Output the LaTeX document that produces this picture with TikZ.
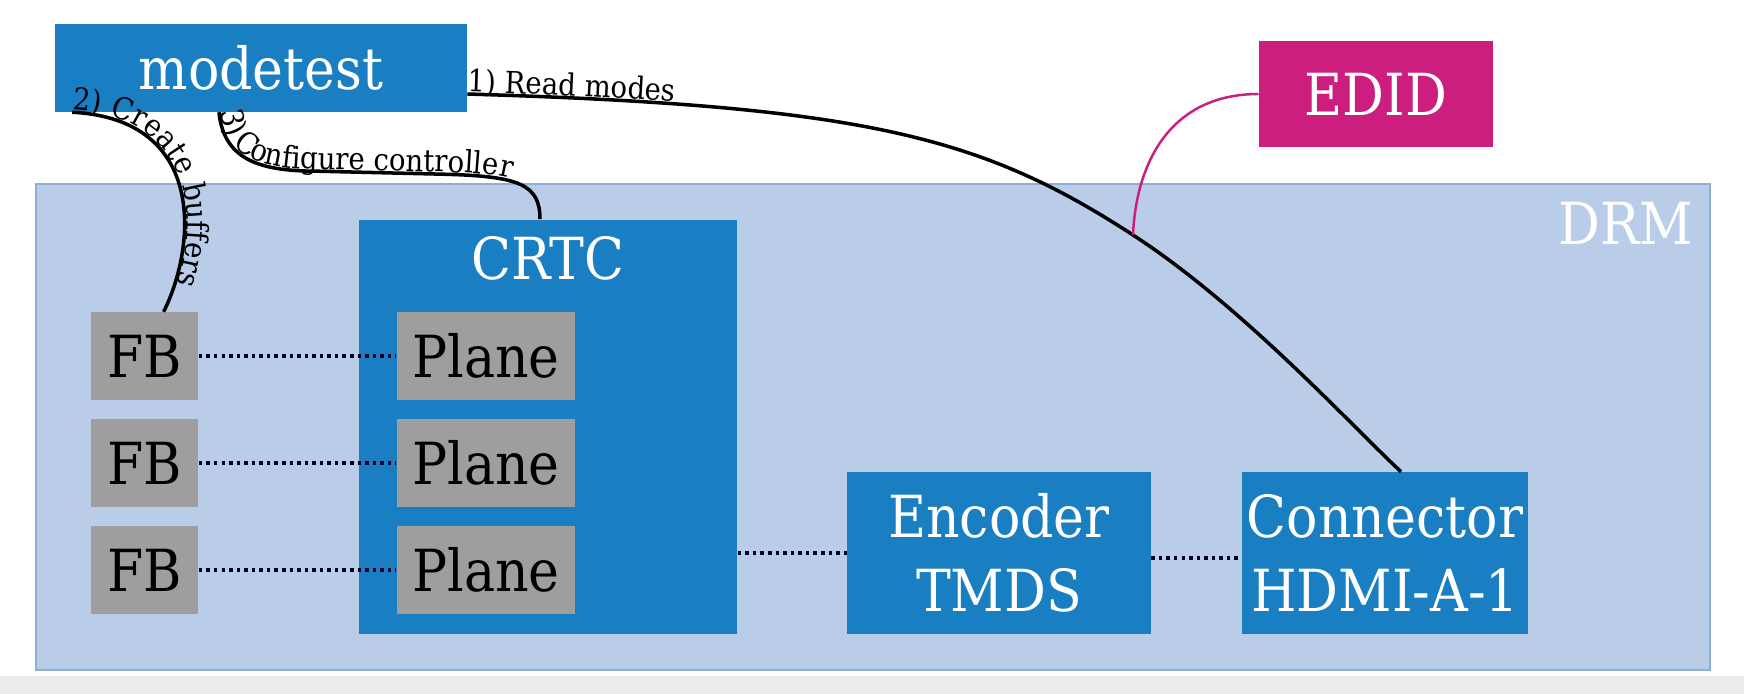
\documentclass[tikz,border=0pt]{standalone}
\usepackage{fontspec}
\setmainfont{DejaVu Serif}[FakeStretch=0.9]
\usetikzlibrary{decorations.text,calc}

\definecolor{kmsblue}{RGB}{25,126,194}
\definecolor{drmfill}{RGB}{185,205,233}
\definecolor{drmline}{RGB}{143,176,214}
\definecolor{fbgray}{RGB}{158,158,158}
\definecolor{edidpink}{RGB}{204,30,126}
\definecolor{bandgray}{RGB}{236,236,234}

\newcommand{\boxfont}{\fontsize{16.5}{21}\selectfont}
\newcommand{\callfont}{\fontsize{8.7}{10}\selectfont}

\begin{document}
\begin{tikzpicture}[x=0.01cm,y=-0.01cm]

\tikzset{
  blk/.style={fill=kmsblue,text=white,font=\boxfont,inner sep=0pt,align=center},
  gry/.style={fill=fbgray,text=black,font=\boxfont,inner sep=0pt,minimum width=1.07cm,minimum height=0.87cm},
  link/.style={draw=black,line width=1pt},
  dots/.style={draw=black!85!blue,line width=1pt,dash pattern=on 1pt off 1.15pt},
  call/.style={link,postaction={decorate},decoration={text along path,raise=0.6pt,text={|\callfont|#1}}}
}

%% Page
\useasboundingbox (0,0) rectangle (1744,694);
\fill[white] (0,0) rectangle (1744,694);
\fill[bandgray] (0,676) rectangle (1744,694);

%% DRM
\node[fill=drmfill,draw=drmline,line width=0.6pt,minimum width=16.73cm,minimum height=4.86cm,inner sep=0pt] (drm) at (873,427) {};
\node[anchor=north east,text=white,font=\boxfont,inner sep=0pt] (drmlabel) at ([xshift=-0.17cm,yshift=-0.19cm]drm.north east) {DRM};

%% Userspace
\node[blk,minimum width=4.11cm,minimum height=0.87cm] (modetest) at (261,68) {modetest};
\node[blk,fill=edidpink,minimum width=2.33cm,minimum height=1.06cm] (edid) at (1376,94) {EDID};

%% CRTC and planes
\node[blk,minimum width=3.78cm,minimum height=4.14cm] (crtc) at (548,427) {};
\node[anchor=north,text=white,font=\boxfont,inner sep=0pt] (crtclabel) at ([yshift=-0.17cm]crtc.north) {CRTC};

\foreach \i/\y in {1/356,2/463,3/570}{
    \node[gry,minimum width=1.78cm] (plane\i) at (486,\y) {Plane};
    \node[gry] (fb\i) at (144.6,\y) {FB};
    \draw[dots] (fb\i) -- (plane\i);
}

%% Encoder, connector
\node[blk,minimum width=3.03cm,minimum height=1.61cm] (encoder) at (999,553) {Encoder\\TMDS};
\node[blk,minimum width=2.86cm,minimum height=1.61cm] (connector) at (1385,553) {Connector\\HDMI-A-1};

\draw[dots] (crtc.east |- encoder.west) -- (encoder.west);
\draw[dots] ([yshift=-0.05cm]encoder.east) -- ([yshift=-0.05cm]connector.west);

%% Calls
\coordinate (tap) at (1133,235);
\draw[call={1) Read modes}] ([yshift=-0.26cm]modetest.east) .. controls +(400,12) and +(-150,-97.5) .. (tap)
    .. controls +(110,71.5) and +(-50,-46.5) .. ([xshift=0.16cm]connector.north);
\draw[edidpink,line width=0.7pt] (edid.west) .. controls +(-90,0) and +(3,-70) .. (tap);

\draw[call={2) Create buffers}] ([xshift=0.175cm]modetest.south west) .. controls +(137,7) and +(31.5,-62.5) .. ([xshift=0.19cm]fb1.north);

\draw[call={3) Configure controller}] ([xshift=-0.42cm]modetest.south) .. controls +(5,50) and +(-55,0) .. ++(100,59)
    -- ++(125,3) .. controls +(75,2) and +(0,-35) .. ([xshift=-0.08cm]crtc.north);

\end{tikzpicture}
\end{document}
